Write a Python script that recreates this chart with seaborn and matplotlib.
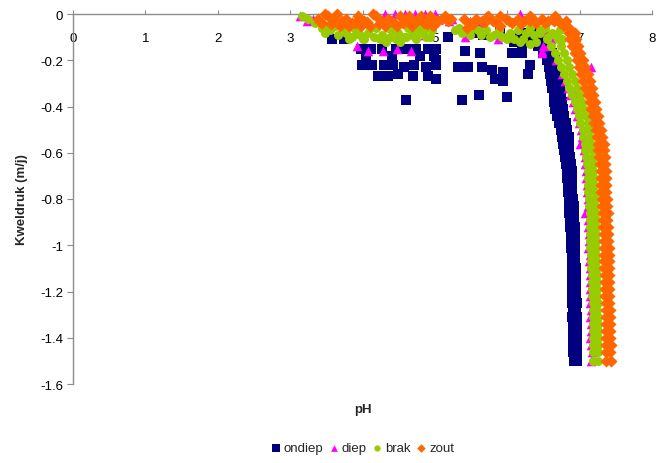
import matplotlib
matplotlib.use("Agg")
import matplotlib.pyplot as plt
import pandas as pd
import seaborn as sns
from matplotlib.ticker import FixedLocator, FuncFormatter

# ---------------------------------------------------------------------------
# Data: pH against kweldruk (m/j) for four groundwater types
# ---------------------------------------------------------------------------
series_names = ["ondiep", "diep", "brak", "zout"]
series_colors = ["#000080", "#ff00ff", "#99cc00", "#ff6600"]
series_markers = ["s", "^", "o", "D"]

# Depth levels along the steep lower branch of each cloud
depth_levels = [-0.08, -0.11, -0.14, -0.17, -0.20, -0.23, -0.26, -0.29, -0.32, -0.35,
                -0.38, -0.41, -0.44, -0.47, -0.50, -0.53, -0.56, -0.59, -0.62, -0.65,
                -0.68, -0.71, -0.74, -0.77, -0.80, -0.83, -0.86, -0.89, -0.92, -0.95,
                -0.98, -1.01, -1.04, -1.07, -1.10, -1.13, -1.16, -1.19, -1.22, -1.25,
                -1.28, -1.31, -1.34, -1.37, -1.40, -1.43, -1.46, -1.50]

# ondiep (shallow)
ondiep_top_ph = [3.58, 3.74, 3.98, 4.12, 4.27, 4.46, 4.60, 4.74, 4.90, 5.01,
                 4.05, 4.41, 4.79, 4.99, 3.99, 4.13, 4.30, 4.42, 4.57, 4.71,
                 4.88, 5.01, 4.21, 4.35, 4.49, 4.70, 4.90, 5.01, 4.60, 5.18,
                 5.41, 5.62, 5.32, 5.46, 5.65, 5.79, 5.94, 5.94, 5.83, 6.28,
                 6.31, 5.37, 5.61, 5.99, 6.06, 6.20, 6.20, 5.48, 6.17, 5.01,
                 5.66, 5.90, 5.55, 6.10]
ondiep_top_kw = [-0.11, -0.11, -0.15, -0.15, -0.15, -0.15, -0.15, -0.15, -0.15, -0.15,
                 -0.18, -0.18, -0.18, -0.18, -0.22, -0.22, -0.22, -0.22, -0.23, -0.22,
                 -0.23, -0.22, -0.27, -0.27, -0.26, -0.27, -0.27, -0.28, -0.37, -0.10,
                 -0.16, -0.17, -0.23, -0.23, -0.23, -0.24, -0.25, -0.29, -0.28, -0.26,
                 -0.22, -0.37, -0.35, -0.36, -0.17, -0.13, -0.17, -0.07, -0.10, -0.20,
                 -0.09, -0.07, -0.08, -0.12]
ondiep_band_lo = [6.26, 6.33, 6.42, 6.50, 6.55, 6.57, 6.59, 6.61, 6.62, 6.64,
                  6.65, 6.66, 6.69, 6.72, 6.74, 6.75, 6.77, 6.78, 6.80, 6.81,
                  6.82, 6.82, 6.84, 6.84, 6.85, 6.86, 6.86, 6.87, 6.87, 6.88,
                  6.88, 6.88, 6.89, 6.89, 6.89, 6.90, 6.89, 6.90, 6.90, 6.90,
                  6.91, 6.90, 6.91, 6.91, 6.91, 6.91, 6.91, 6.92]
ondiep_band_hi = [6.40, 6.48, 6.56, 6.62, 6.66, 6.68, 6.70, 6.72, 6.73, 6.74,
                  6.75, 6.77, 6.79, 6.81, 6.83, 6.85, 6.86, 6.86, 6.87, 6.88,
                  6.89, 6.89, 6.90, 6.90, 6.91, 6.92, 6.92, 6.92, 6.93, 6.93,
                  6.93, 6.94, 6.94, 6.94, 6.95, 6.95, 6.95, 6.95, 6.95, 6.96,
                  6.95, 6.96, 6.96, 6.96, 6.96, 6.96, 6.97, 6.96]

# diep (deep)
diep_top_ph = [3.14, 3.23, 3.32, 3.92, 4.07, 4.28, 4.48, 4.67, 4.31, 4.45,
               4.59, 4.72, 4.86, 5.00, 4.77, 4.90, 5.04, 4.86, 5.41, 5.48,
               5.59, 5.70, 5.66, 5.87, 5.90, 6.31, 6.48, 6.56, 6.92, 5.20,
               5.23, 6.17, 5.65]
diep_top_kw = [-0.01, -0.03, -0.02, -0.14, -0.16, -0.16, -0.15, -0.16, 0.00, 0.00,
               0.00, 0.00, 0.00, 0.00, -0.03, -0.04, -0.02, -0.09, -0.10, -0.03,
               -0.05, -0.01, -0.04, -0.11, -0.09, -0.02, -0.16, -0.14, -0.34, -0.03,
               -0.02, 0.00, -0.04]
diep_band = [6.55, 6.60, 6.50, 6.48, 6.68, 7.16, 6.76, 6.80, 6.84, 6.87,
             6.91, 6.94, 6.97, 6.99, 7.02, 7.03, 7.00, 7.06, 7.07, 7.08,
             7.09, 7.09, 7.10, 7.10, 7.11, 7.11, 7.08, 7.12, 7.12, 7.13,
             7.13, 7.12, 7.14, 7.13, 7.14, 7.15, 7.14, 7.15, 7.14, 7.15,
             7.16, 7.15, 7.16, 7.16, 7.15, 7.16, 7.17, 7.16]

# brak (brackish)
brak_top_ph = [3.16, 3.25, 3.44, 3.55, 3.66, 3.77, 3.85, 3.96, 4.07, 4.16,
               4.27, 4.38, 4.49, 4.57, 4.68, 4.79, 4.88, 4.96, 4.82, 5.28,
               5.37, 5.48, 5.59, 5.70, 5.82, 5.93, 6.04, 6.15, 6.26, 6.37,
               6.45, 6.56, 6.67, 6.75, 3.52, 3.74, 3.91, 4.19, 4.41, 4.63,
               4.74, 4.02, 4.32, 4.52, 6.10, 6.17, 6.31, 6.31, 6.52, 6.73,
               3.35, 3.48, 3.62, 3.82, 3.88, 4.00, 4.11, 4.24, 4.35, 4.46,
               4.60, 4.71, 4.85, 4.93, 5.33, 5.52, 5.64, 5.76, 5.88, 6.00,
               6.22, 6.40]
brak_top_kw = [-0.01, -0.02, -0.06, -0.07, -0.09, -0.08, -0.10, -0.09, -0.08, -0.10,
               -0.09, -0.10, -0.08, -0.10, -0.09, -0.08, -0.10, -0.07, -0.06, -0.07,
               -0.08, -0.09, -0.07, -0.07, -0.09, -0.10, -0.08, -0.07, -0.08, -0.09,
               -0.07, -0.10, -0.09, -0.11, -0.05, -0.06, -0.07, -0.06, -0.07, -0.06,
               -0.11, -0.11, -0.12, -0.12, -0.11, -0.12, -0.13, -0.06, -0.06, -0.07,
               -0.04, -0.08, -0.05, -0.11, -0.06, -0.11, -0.06, -0.11, -0.06, -0.11,
               -0.10, -0.06, -0.07, -0.10, -0.06, -0.06, -0.09, -0.10, -0.07, -0.11,
               -0.11, -0.12]
brak_band_lo = [6.45, 6.55, 6.61, 6.66, 6.70, 6.74, 6.78, 6.82, 6.86, 6.90,
                6.93, 6.96, 6.99, 7.01, 7.04, 7.05, 7.07, 7.08, 7.09, 7.10,
                7.11, 7.11, 7.12, 7.12, 7.13, 7.13, 7.14, 7.14, 7.14, 7.15,
                7.15, 7.15, 7.16, 7.16, 7.16, 7.17, 7.17, 7.17, 7.17, 7.18,
                7.18, 7.18, 7.18, 7.19, 7.18, 7.19, 7.19, 7.19]
brak_band_hi = [6.62, 6.70, 6.74, 6.78, 6.82, 6.85, 6.89, 6.93, 6.97, 7.00,
                7.03, 7.06, 7.09, 7.11, 7.13, 7.14, 7.16, 7.17, 7.18, 7.19,
                7.19, 7.20, 7.20, 7.21, 7.21, 7.21, 7.22, 7.22, 7.22, 7.22,
                7.23, 7.23, 7.23, 7.23, 7.24, 7.24, 7.24, 7.24, 7.24, 7.25,
                7.24, 7.25, 7.25, 7.25, 7.25, 7.26, 7.25, 7.25]

# zout (saline)
zout_top_ph = [3.38, 3.44, 3.52, 3.60, 3.69, 3.77, 3.85, 3.94, 4.02, 4.10,
               4.19, 4.27, 4.35, 4.43, 4.52, 4.60, 4.68, 4.77, 4.85, 4.93,
               5.01, 5.10, 5.18, 3.48, 3.65, 3.81, 3.98, 4.14, 4.31, 4.48,
               4.64, 4.81, 4.97, 5.14, 5.40, 5.48, 5.57, 5.65, 5.73, 5.81,
               5.90, 5.98, 6.06, 6.15, 6.23, 6.31, 6.40, 6.48, 6.56, 6.64,
               6.73, 6.81, 5.44, 5.90, 6.31, 6.66, 6.86,
               3.41, 3.56, 3.72, 3.89, 4.06, 4.23, 4.39, 4.56, 4.72, 4.89,
               5.05, 5.22, 5.52, 5.69, 5.86, 6.02, 6.19, 6.35, 6.52, 6.69,
               6.78]
zout_top_kw = [-0.02, -0.04, -0.01, -0.03, -0.05, -0.02, -0.04, -0.01, -0.03, -0.05,
               -0.01, -0.03, -0.02, -0.04, -0.01, -0.03, -0.05, -0.02, -0.04, -0.01,
               -0.03, -0.02, -0.03, 0.00, 0.00, -0.05, -0.05, 0.00, -0.05, -0.05,
               -0.01, -0.01, -0.05, -0.01, -0.02, -0.04, -0.02, -0.03, -0.01, -0.03,
               -0.05, -0.02, -0.04, -0.02, -0.03, -0.03, -0.04, -0.02, -0.03, -0.03,
               -0.04, -0.03, -0.06, -0.01, -0.01, -0.01, -0.06,
               -0.035, -0.045, -0.03, -0.04, -0.035, -0.045, -0.03, -0.04, -0.035, -0.045,
               -0.03, -0.02, -0.045, -0.035, -0.04, -0.03, -0.045, -0.02, -0.04, -0.02,
               -0.05]
zout_band_lo = [6.85, 6.87, 6.90, 6.93, 6.96, 6.99, 7.02, 7.05, 7.08, 7.11,
                7.14, 7.16, 7.18, 7.20, 7.22, 7.24, 7.25, 7.26, 7.27, 7.28,
                7.29, 7.29, 7.30, 7.30, 7.31, 7.31, 7.32, 7.32, 7.32, 7.33,
                7.33, 7.33, 7.34, 7.34, 7.34, 7.35, 7.35, 7.35, 7.35, 7.36,
                7.36, 7.36, 7.36, 7.37, 7.37, 7.37, 7.37, 7.37]
zout_band_hi = [6.93, 6.95, 6.98, 7.01, 7.05, 7.08, 7.11, 7.14, 7.17, 7.19,
                7.21, 7.23, 7.25, 7.27, 7.30, 7.31, 7.33, 7.34, 7.35, 7.35,
                7.36, 7.36, 7.37, 7.37, 7.38, 7.38, 7.39, 7.38, 7.39, 7.39,
                7.39, 7.40, 7.40, 7.40, 7.40, 7.41, 7.41, 7.41, 7.41, 7.41,
                7.42, 7.42, 7.42, 7.42, 7.42, 7.43, 7.42, 7.43]

x_ticks = [0, 1, 2, 3, 4, 5, 6, 7, 8]
y_ticks = [0, -0.2, -0.4, -0.6, -0.8, -1.0, -1.2, -1.4, -1.6]


def frame(ph_parts, kw_parts):
    ph, kw = [], []
    for p, k in zip(ph_parts, kw_parts):
        ph += list(p)
        kw += list(k)
    return pd.DataFrame({"pH": ph, "Kweldruk": kw})


frames = {
    "ondiep": frame([ondiep_top_ph, ondiep_band_lo, ondiep_band_hi],
                    [ondiep_top_kw, depth_levels, depth_levels]),
    "diep": frame([diep_top_ph, diep_band], [diep_top_kw, depth_levels]),
    "brak": frame([brak_top_ph, brak_band_lo, brak_band_hi],
                  [brak_top_kw, depth_levels, depth_levels]),
    "zout": frame([zout_top_ph, zout_band_lo, zout_band_hi],
                  [zout_top_kw, depth_levels, depth_levels]),
}
marker_sizes = {"ondiep": 52, "diep": 48, "brak": 42, "zout": 38}

# ---------------------------------------------------------------------------
# Figure
# ---------------------------------------------------------------------------
sns.set_style("white")
plt.rcParams["font.family"] = ["Liberation Sans", "DejaVu Sans"]
plt.rcParams["axes.unicode_minus"] = False

fig = plt.figure(figsize=(6.72, 4.64), dpi=100)
ax = fig.add_axes([73 / 672, 79 / 464, 579 / 672, 370 / 464])

for name, color, marker in zip(series_names, series_colors, series_markers):
    sns.scatterplot(data=frames[name], x="pH", y="Kweldruk", ax=ax,
                    color=color, marker=marker, s=marker_sizes[name],
                    linewidth=0, label=name, clip_on=False, zorder=3)

ax.set_xlim(0, 8)
ax.set_ylim(-1.6, 0)
ax.xaxis.set_major_locator(FixedLocator(x_ticks))
ax.yaxis.set_major_locator(FixedLocator(y_ticks))
ax.yaxis.set_major_formatter(FuncFormatter(lambda v, _: f"{v:g}"))

axis_grey = "#8c8c8c"
for side in ("right", "bottom"):
    ax.spines[side].set_visible(False)
for side in ("left", "top"):
    ax.spines[side].set_color(axis_grey)
    ax.spines[side].set_linewidth(1.0)

ax.tick_params(axis="x", bottom=False, labelbottom=False, top=True, labeltop=True,
               direction="out", length=3, color=axis_grey, pad=-16,
               labelsize=9.5, labelcolor="black")
ax.tick_params(axis="y", left=True, direction="out", length=4, color=axis_grey,
               pad=3, labelsize=9.5, labelcolor="black")
for lbl in ax.get_xticklabels():
    lbl.set_verticalalignment("top")

ax.xaxis.set_label_position("bottom")
ax.set_xlabel("pH", fontsize=9.5, fontweight="bold", labelpad=14)
ax.set_ylabel("Kweldruk (m/j)", fontsize=9.5, fontweight="bold", labelpad=9)

handles, labels = ax.get_legend_handles_labels()
if ax.get_legend() is not None:
    ax.get_legend().remove()
fig.legend(handles, labels, loc="center", bbox_to_anchor=(363 / 672, 1 - 449 / 464),
           ncol=4, frameon=False, fontsize=9.5, handlelength=0.6,
           handletextpad=0.3, columnspacing=0.5, markerscale=0.7, borderpad=0)

fig.savefig("out.png", dpi=100, facecolor="white")
